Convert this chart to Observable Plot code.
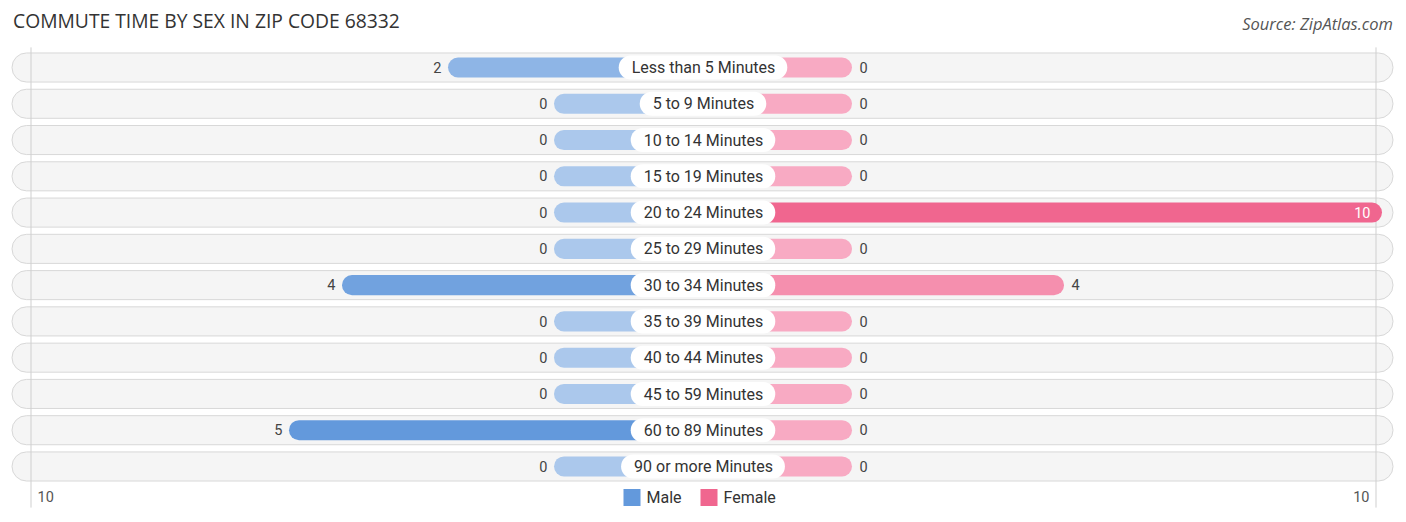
<!DOCTYPE html>
<html>
<head>
<meta charset="utf-8">
<script src="https://cdn.jsdelivr.net/npm/d3@7"></script>
<script src="https://cdn.jsdelivr.net/npm/@observablehq/plot@0.6"></script>
<style>
  html, body { margin: 0; padding: 0; background: #fff; }
  #wrap { position: relative; width: 1406px; height: 522px; overflow: hidden; }
  #head { position: relative; height: 40px; }
  #title { position: absolute; left: 13px; top: 7px; font-family: "Open Sans", sans-serif; font-size: 19.3px; color: #333; white-space: nowrap; }
  #source { position: absolute; right: 13px; top: 12px; font-family: "Open Sans", sans-serif; font-style: italic; font-size: 16.5px; color: #555; white-space: nowrap; }
  #chart svg { display: block; }
</style>
</head>
<body>
<div id="wrap">
  <div id="head">
    <div id="title">COMMUTE TIME BY SEX IN ZIP CODE 68332</div>
    <div id="source">Source: ZipAtlas.com</div>
  </div>
  <div id="chart"></div>
</div>
<script>
const categories = ["Less than 5 Minutes","5 to 9 Minutes","10 to 14 Minutes","15 to 19 Minutes","20 to 24 Minutes","25 to 29 Minutes","30 to 34 Minutes","35 to 39 Minutes","40 to 44 Minutes","45 to 59 Minutes","60 to 89 Minutes","90 or more Minutes"];
const maleValues   = [2,0,0,0,0,0,4,0,0,0,5,0];
const femaleValues = [0,0,0,0,10,0,4,0,0,0,0,0];
const seriesNames = ["Male","Female"];
const axisMax = 10;
const axisLabels = ["10","10"];

const W = 1406, H = 482;
const unitPx = 53;                 // px per unit
const off = 149 / unitPx;          // minimum stub length (units)
const D = (W / 2) / unitPx;
const X = d3.scaleLinear().domain([-D, D]).range([0, W]);

const maleColor0 = "#abc8ec", maleColor1 = "#6399dc";
const femColor0 = "#f8aac3", femColor1 = "#f0668f";
const maleMax = d3.max(maleValues), femMax = d3.max(femaleValues);
const maleFill = v => d3.interpolateRgb(maleColor0, maleColor1)(maleMax ? v / maleMax : 0);
const femFill = v => d3.interpolateRgb(femColor0, femColor1)(femMax ? v / femMax : 0);

const male = categories.map((c, i) => ({cat: c, v: maleValues[i]}));
const female = categories.map((c, i) => ({cat: c, v: femaleValues[i]}));

// measure label widths
const ctx = document.createElement("canvas").getContext("2d");
ctx.font = "16px Roboto";
const pills = categories.map(c => {
  const w = ctx.measureText(c).width + 25;
  return {cat: c, half: (w / 2) / unitPx};
});

const step = 36.27;
const yTop = 27.5 - step / 2;
const yBot = yTop + step * categories.length;

const femInside = d => (off + d.v) * unitPx > (W / 2) * 0.9;

const legend = [
  {name: seriesNames[0], sq: X.invert(631.5), tx: X.invert(646), color: maleColor1},
  {name: seriesNames[1], sq: X.invert(708.5), tx: X.invert(723), color: femColor1}
];
const tickL = [{x: -(off + axisMax), label: axisLabels[0]}];
const tickR = [{x: (off + axisMax), label: axisLabels[1]}];
const bottomDy = 497 - 40 - yBot;

const chart = Plot.plot({
  width: W, height: H,
  marginLeft: 0, marginRight: 0, marginTop: yTop, marginBottom: H - yBot,
  x: {domain: [-D, D], range: [0, W], axis: null},
  y: {type: "band", domain: categories, range: [yTop, yBot], padding: 0, round: false, axis: null},
  style: {fontFamily: "Roboto, sans-serif"},
  marks: [
    Plot.barX(categories, {y: d => d, x1: X.invert(12), x2: X.invert(1393), insetTop: 3.6, insetBottom: 3.6, rx: 14.5, fill: "#f5f5f5", stroke: "#d8d8d8", strokeWidth: 1}),
    Plot.ruleX(tickL, {x: "x", dx: 6.5, stroke: "#cfcfcf", strokeWidth: 1, insetTop: -2, insetBottom: -23}),
    Plot.ruleX(tickR, {x: "x", dx: -6.5, stroke: "#cfcfcf", strokeWidth: 1, insetTop: -2, insetBottom: -23}),
    Plot.barX(male, {y: "cat", x1: d => -(off + d.v), x2: 0, insetTop: 8.1, insetBottom: 8.1, rx: 10, fill: d => maleFill(d.v)}),
    Plot.barX(female, {y: "cat", x1: 0, x2: d => off + d.v, insetTop: 8.1, insetBottom: 8.1, rx: 10, fill: d => femFill(d.v)}),
    Plot.barX(pills, {y: "cat", x1: d => -d.half, x2: d => d.half, insetTop: 6.1, insetBottom: 6.1, rx: 12, fill: "#ffffff"}),
    Plot.text(pills, {y: "cat", x: 0, text: "cat", fontSize: 16, fill: "#333"}),
    Plot.text(male, {y: "cat", x: d => -(off + d.v), text: d => String(d.v), dx: -7, textAnchor: "end", fontSize: 14.5, fill: "#444"}),
    Plot.text(female.filter(d => !femInside(d)), {y: "cat", x: d => off + d.v, text: d => String(d.v), dx: 7, textAnchor: "start", fontSize: 14.5, fill: "#444"}),
    Plot.text(female.filter(femInside), {y: "cat", x: d => off + d.v, text: d => String(d.v), dx: -12, textAnchor: "end", fontSize: 14.5, fill: "#fff"}),
    Plot.text(tickL, {x: "x", text: "label", frameAnchor: "bottom", lineAnchor: "middle", dy: bottomDy, dx: 13, textAnchor: "start", fontSize: 14.5, fill: "#555"}),
    Plot.text(tickR, {x: "x", text: "label", frameAnchor: "bottom", lineAnchor: "middle", dy: bottomDy, dx: -13, textAnchor: "end", fontSize: 14.5, fill: "#555"}),
    Plot.dot(legend, {x: "sq", frameAnchor: "bottom", dy: bottomDy, symbol: "square", r: 9.6, fill: "color", stroke: "none"}),
    Plot.text(legend, {x: "tx", text: "name", frameAnchor: "bottom", lineAnchor: "middle", dy: bottomDy, textAnchor: "start", fontSize: 16, fill: "#333"})
  ]
});
document.getElementById("chart").appendChild(chart);
</script>
</body>
</html>
